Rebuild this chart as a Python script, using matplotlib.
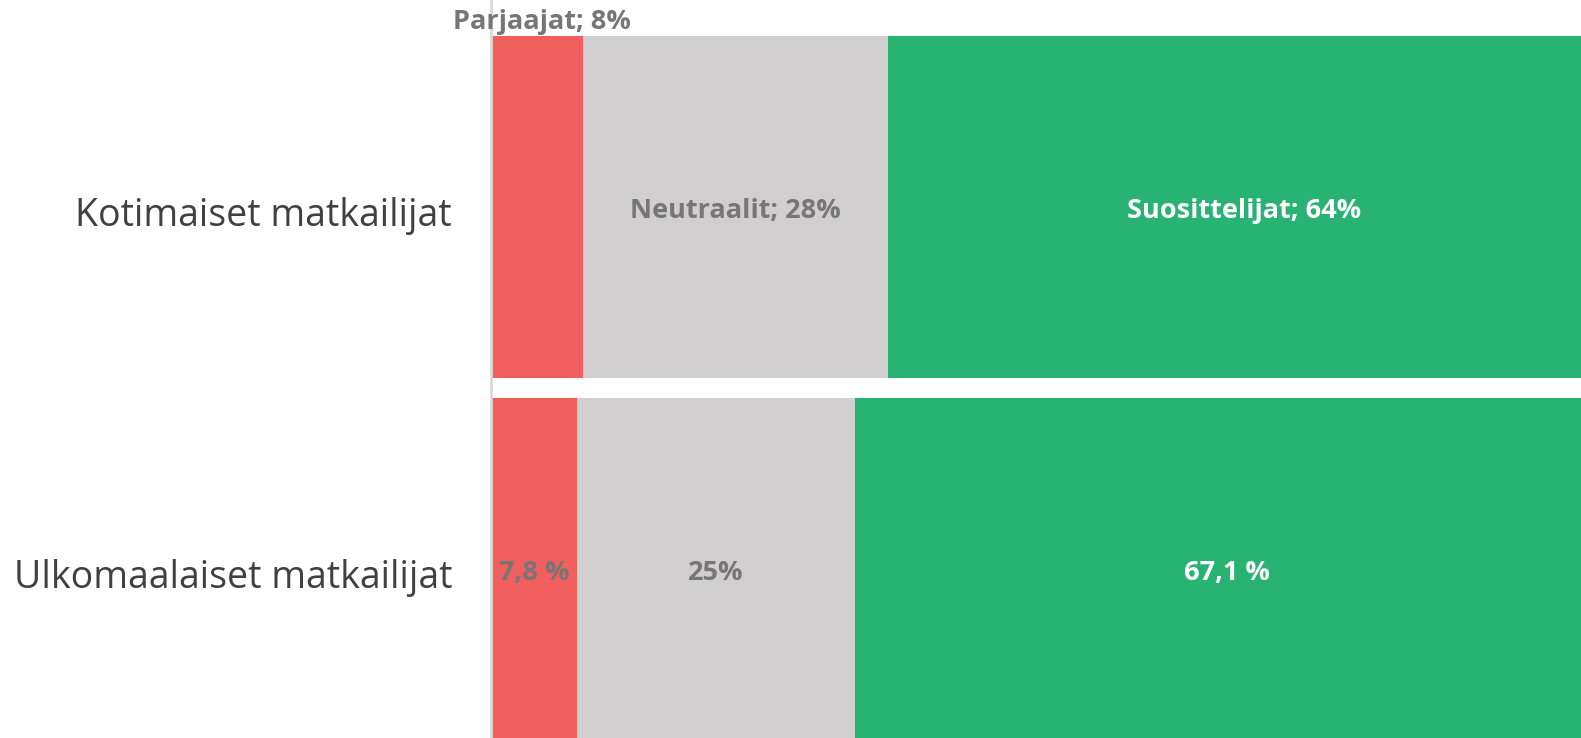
import matplotlib
matplotlib.use("Agg")
import matplotlib.pyplot as plt

categories = ["Kotimaiset matkailijat", "Ulkomaalaiset matkailijat"]
series_names = ["Parjaajat", "Neutraalit", "Suosittelijat"]
parjaajat = [8.3, 7.8]
neutraalit = [27.5, 25.0]
suosittelijat = [64.2, 67.1]
labels_top = ["Parjaajat; 8%", "Neutraalit; 28%", "Suosittelijat; 64%"]
labels_bottom = ["7,8 %", "25%", "67,1 %"]

colors = ["#F05E5E", "#D0CECF", "#28B373"]
label_colors = ["#767676", "#767676", "#FFFFFF"]

plt.rcParams['font.family'] = ['Open Sans', 'DejaVu Sans']

fig = plt.figure(figsize=(15.81, 7.38), dpi=100)
ax = fig.add_axes([491 / 1581, 0, 1 - 491 / 1581, 1])

XMAX = 98.3
ax.set_xlim(0, XMAX)
ax.set_ylim(1.467, -0.572)

ypos = list(range(len(categories)))
series = [parjaajat, neutraalit, suosittelijat]
lefts = [0.0] * len(categories)
all_labels = [labels_top, labels_bottom]
for s_idx, vals in enumerate(series):
    ax.barh(ypos, vals, left=lefts, height=0.945, color=colors[s_idx], linewidth=0)
    for c_idx, v in enumerate(vals):
        l = lefts[c_idx]
        cx = l + v / 2
        txt = all_labels[c_idx][s_idx]
        if c_idx == 0 and s_idx == 0:
            ax.text(cx + 0.4, -0.476, txt, ha="center", va="bottom", fontsize=19.5,
                    fontweight="bold", color="#767676", clip_on=False)
        else:
            ax.text(cx, ypos[c_idx] + 0.01, txt, ha="center", va="center", fontsize=19.5,
                    fontweight="bold", color=label_colors[s_idx])
    lefts = [a + b for a, b in zip(lefts, vals)]

ax.set_yticks([p + 0.012 for p in ypos])
ax.set_yticklabels(categories, fontsize=27, color="#404040")
ax.tick_params(axis="y", length=0, pad=28)
ax.set_xticks([])
for sp in ["top", "right", "bottom"]:
    ax.spines[sp].set_visible(False)
ax.spines["left"].set_color("#D9D9D9")
ax.spines["left"].set_linewidth(2)

fig.savefig("out.png", dpi=100)
